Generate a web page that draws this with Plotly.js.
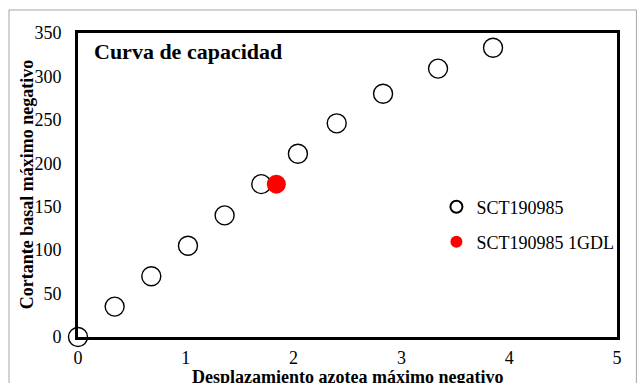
<!DOCTYPE html>
<html>
<head>
<meta charset="utf-8">
<script src="https://cdn.plot.ly/plotly-3.0.1.min.js"></script>
<style>
  html, body { margin: 0; padding: 0; background: #fff; }
  #chart { width: 639px; height: 383px; }
</style>
</head>
<body>
<div id="chart"></div>
<script>
// Curva de capacidad
const despl = [0, 0.34, 0.68, 1.02, 1.36, 1.70, 2.04, 2.40, 2.83, 3.34, 3.85];
const cortante = [0, 35, 70, 105, 140, 176, 211, 246, 280, 309, 333];
const desplGDL = [1.84];
const cortanteGDL = [176];

const serif = '"Times New Roman", "Liberation Serif", serif';

const traces = [
    {
        x: despl,
        y: cortante,
        type: 'scatter',
        mode: 'markers',
        name: 'SCT190985',
        legend: 'legend',
        cliponaxis: false,
        marker: { size: 19, color: 'rgba(255,255,255,0)', line: { color: '#000', width: 1.4 } }
    },
    {
        x: desplGDL,
        y: cortanteGDL,
        type: 'scatter',
        mode: 'markers',
        name: 'SCT190985 1GDL',
        legend: 'legend2',
        cliponaxis: false,
        marker: { size: 19, color: '#ff0000' }
    }
];

const legendBase = {
    xanchor: 'left',
    yanchor: 'middle',
    bgcolor: 'rgba(0,0,0,0)',
    borderwidth: 0,
    itemsizing: 'constant',
    font: { family: serif, size: 18, color: '#000' }
};

const layout = {
    width: 639,
    height: 383,
    margin: { l: 78, r: 22, t: 33, b: 46 },
    paper_bgcolor: '#fff',
    plot_bgcolor: '#fff',
    font: { family: serif, size: 18, color: '#000' },
    showlegend: true,
    legend: Object.assign({ x: 0.665, y: 0.4276 }, legendBase),
    legend2: Object.assign({ x: 0.665, y: 0.3125 }, legendBase),
    xaxis: {
        range: [0, 5],
        dtick: 1,
        showgrid: false,
        zeroline: false,
        showline: true,
        linecolor: '#000',
        linewidth: 3,
        mirror: true,
        ticks: '',
        ticklabelstandoff: 2,
        tickfont: { family: serif, size: 18, color: '#000' }
    },
    yaxis: {
        range: [0, 350],
        dtick: 50,
        showgrid: false,
        zeroline: false,
        showline: true,
        linecolor: '#000',
        linewidth: 3,
        mirror: true,
        ticks: '',
        ticklabelstandoff: 10,
        tickfont: { family: serif, size: 18, color: '#000' }
    },
    annotations: [
        {
            text: '<b>Curva de capacidad</b>',
            xref: 'paper', yref: 'paper',
            x: 0.026, y: 0.94,
            xanchor: 'left', yanchor: 'middle',
            showarrow: false,
            font: { family: serif, size: 22, color: '#000' }
        },
        {
            // título del eje x
            text: '<b>Desplazamiento azotea máximo negativo</b>',
            xref: 'paper', yref: 'paper',
            x: 0.5, y: -0.093,
            xanchor: 'center', yanchor: 'top',
            showarrow: false,
            font: { family: serif, size: 18, color: '#000' }
        },
        {
            // título del eje y
            text: '<b>Cortante basal máximo negativo</b>',
            xref: 'paper', yref: 'paper',
            x: -0.094, y: 0.5,
            xanchor: 'center', yanchor: 'middle',
            textangle: -90,
            showarrow: false,
            font: { family: serif, size: 18, color: '#000' }
        }
    ],
    shapes: [
        {
            type: 'rect',
            xref: 'paper', yref: 'paper',
            x0: -0.128, x1: 1.036, y0: -0.25, y1: 1.0757,
            line: { color: '#a6a6a6', width: 1 },
            fillcolor: 'rgba(0,0,0,0)',
            layer: 'below'
        }
    ]
};

Plotly.newPlot('chart', traces, layout, { displayModeBar: false, staticPlot: true });
</script>
</body>
</html>
